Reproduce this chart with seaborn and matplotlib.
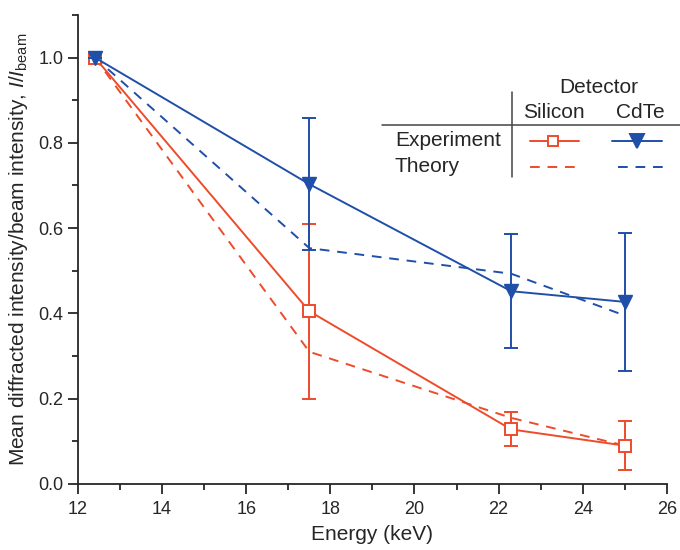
import numpy as np
import pandas as pd
import matplotlib
matplotlib.use("Agg")
import matplotlib.pyplot as plt
import seaborn as sns
from matplotlib.ticker import MultipleLocator
from matplotlib.lines import Line2D

# Data
energy = [12.4, 17.5, 22.3, 25.0]
si_exp = [1.0, 0.405, 0.128, 0.090]
si_err = [0.0, 0.205, 0.040, 0.058]
cdte_exp = [1.0, 0.703, 0.452, 0.427]
cdte_err = [0.0, 0.155, 0.133, 0.162]
si_theory = [1.0, 0.310, 0.155, 0.090]
cdte_theory = [1.0, 0.553, 0.493, 0.395]

red = "#EE4B2B"
blue = "#1F4FA8"

sns.set_style("ticks")
plt.rcParams["font.family"] = ["Liberation Sans", "DejaVu Sans"]
plt.rcParams["mathtext.fontset"] = "custom"
plt.rcParams["mathtext.rm"] = "Liberation Sans"
plt.rcParams["mathtext.it"] = "Liberation Sans:italic"

df = pd.DataFrame({
    "Energy": energy * 4,
    "value": si_exp + cdte_exp + si_theory + cdte_theory,
    "series": ["Si exp"] * 4 + ["CdTe exp"] * 4 + ["Si th"] * 4 + ["CdTe th"] * 4,
})

fig = plt.figure(figsize=(6.8, 5.5), dpi=100)
ax = fig.add_axes([0.1147, 0.12, 0.866, 0.853])

# theory lines (dashed)
sns.lineplot(data=df[df.series == "Si th"], x="Energy", y="value", color=red,
             linestyle=(0, (5, 4)), lw=1.4, ax=ax, legend=False)
sns.lineplot(data=df[df.series == "CdTe th"], x="Energy", y="value", color=blue,
             linestyle=(0, (5, 4)), lw=1.4, ax=ax, legend=False)

# experiment with error bars
ax.errorbar(energy, si_exp, yerr=si_err, color=red, lw=1.4, marker="s", ms=8,
            mfc="white", mec=red, mew=1.4, capsize=5, capthick=1.4, elinewidth=1.4, zorder=4)
ax.errorbar(energy, cdte_exp, yerr=cdte_err, color=blue, lw=1.4, marker="v", ms=10,
            mfc=blue, mec=blue, capsize=5, capthick=1.4, elinewidth=1.4, zorder=5)

ax.set_xlim(12, 26)
ax.set_ylim(0, 1.1)
ax.xaxis.set_major_locator(MultipleLocator(2))
ax.xaxis.set_minor_locator(MultipleLocator(1))
ax.yaxis.set_minor_locator(MultipleLocator(0.1))
ax.set_yticks(np.arange(0, 1.01, 0.2))
ax.set_yticklabels(["0.0", "0.2", "0.4", "0.6", "0.8", "1.0"])
ax.tick_params(which="major", direction="out", length=7, width=1.3, labelsize=13)
ax.tick_params(axis="x", which="major", pad=5)
ax.tick_params(which="minor", direction="out", length=4, width=1.3)
for s in ["left", "bottom"]:
    ax.spines[s].set_linewidth(1.3)
sns.despine(ax=ax)

ax.set_xlabel("Energy (keV)", fontsize=15, labelpad=5)
ax.set_ylabel(r"Mean diffracted intensity/beam intensity, $I/I_{\rm beam}$", fontsize=15, labelpad=6)

# table-style legend
T = ax.transAxes
def ax_xy(px, py):
    # convert figure pixel coordinates to axes fraction for the legend layout
    return ((px - 78) / 589.0, (484 - py) / 469.0)

fs = 15
x, y = ax_xy(599, 88); ax.text(x, y, "Detector", transform=T, ha="center", va="center", fontsize=fs)
x, y = ax_xy(554, 113); ax.text(x, y, "Silicon", transform=T, ha="center", va="center", fontsize=fs)
x, y = ax_xy(640, 113); ax.text(x, y, "CdTe", transform=T, ha="center", va="center", fontsize=fs)
x, y = ax_xy(395, 141); ax.text(x, y, "Experiment", transform=T, ha="left", va="center", fontsize=fs)
x, y = ax_xy(395, 167); ax.text(x, y, "Theory", transform=T, ha="left", va="center", fontsize=fs)

x0, y0 = ax_xy(382, 125); x1, _ = ax_xy(680, 125)
ax.add_line(Line2D([x0, x1], [y0, y0], transform=T, color="#444444", lw=1.1, clip_on=False))
xv, ya = ax_xy(512, 92); _, yb = ax_xy(512, 177)
ax.add_line(Line2D([xv, xv], [ya, yb], transform=T, color="#444444", lw=1.1, clip_on=False))

for (xa, xb, xm, xd, col, mk, mfc, msz) in [(530, 579, 553, 530, red, "s", "white", 7),
                                             (612, 662, 637, 618, blue, "v", blue, 10)]:
    a, ye = ax_xy(xa, 141); b, _ = ax_xy(xb, 141); m, _ = ax_xy(xm, 141)
    ax.add_line(Line2D([a, b], [ye, ye], transform=T, color=col, lw=1.4, clip_on=False))
    ax.add_line(Line2D([m], [ye], transform=T, color=col, marker=mk, ms=msz, mfc=mfc,
                       mec=col, mew=1.4, clip_on=False))
    d0, yt = ax_xy(xd, 167); d1, _ = ax_xy(xd + 49, 167)
    ax.add_line(Line2D([d0, d1], [yt, yt], transform=T, color=col, lw=1.4,
                       linestyle=(0, (5, 4)), clip_on=False))

fig.savefig("out.png", dpi=100)
